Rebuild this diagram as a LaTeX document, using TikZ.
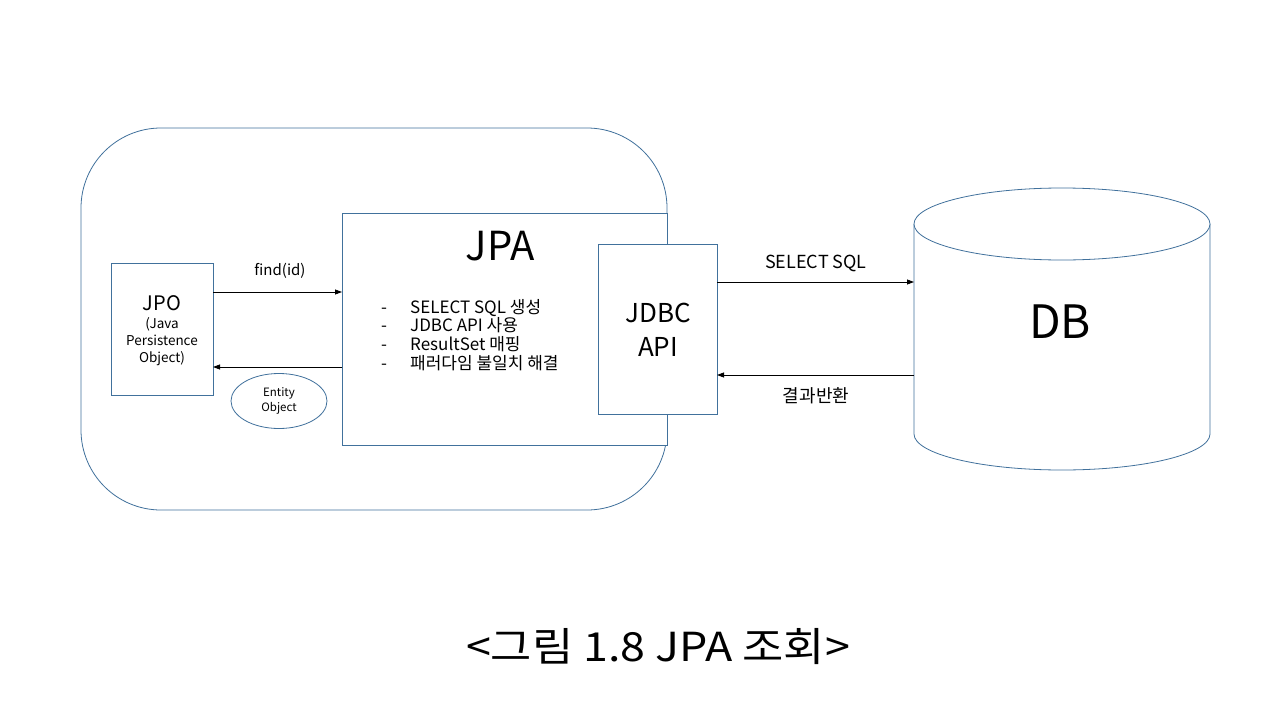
\documentclass[tikz,border=0pt]{standalone}
\usepackage{fontspec}
\usepackage{graphicx}
\setmainfont{Noto Sans CJK KR}
\usetikzlibrary{arrows.meta,shapes.geometric}
\definecolor{edge}{HTML}{41719C}
\tikzset{
  box/.style={draw=edge, line width=0.8pt, fill=white},
  flow/.style={draw=black, line width=0.8pt, -{Triangle[length=7pt,width=5pt]}},
  lbl/.style={font=\fontsize{15}{18}\selectfont, inner sep=0pt},
  biglbl/.style={font=\fontsize{18}{20}\selectfont, inner sep=0pt},
  dashitem/.style={inner sep=0pt, anchor=base, font=\fontsize{17}{18}\selectfont},
  item/.style={inner sep=0pt, anchor=base west, font=\fontsize{17}{18}\selectfont}
}
\begin{document}
\begin{tikzpicture}[x=1pt,y=-1pt]
\useasboundingbox (0,0) rectangle (1280,720);
% outer container
\draw[box, rounded corners=80pt] (81,128) rectangle (667,510);
% JPA box
\node[box, minimum width=325pt, minimum height=232pt, inner sep=0pt, anchor=north west] (jpa) at (342,213) {};
\node[inner sep=0pt, font=\fontsize{40}{44}\selectfont] (jpatitle) at (500,246) {JPA};
\node[dashitem] (d1) at (384,313) {-};
\node[dashitem] (d2) at (384,331.7) {-};
\node[dashitem] (d3) at (384,350.4) {-};
\node[dashitem] (d4) at (384,369.1) {-};
\node[item] (i1) at (410,313) {SELECT SQL 생성};
\node[item] (i2) at (410,331.7) {JDBC API 사용};
\node[item] (i3) at (410,350.4) {ResultSet 매핑};
\node[item] (i4) at (410,369.1) {패러다임 불일치 해결};
% JDBC API
\node[box, minimum width=119pt, minimum height=170pt, inner sep=0pt, anchor=north west] (jdbc) at (598,244) {};
\node[inner sep=0pt, align=center, font=\fontsize{26}{34}\selectfont] (jdbctext) at (658,330) {JDBC\\API};
% JPO
\node[box, minimum width=102pt, minimum height=132pt, inner sep=0pt, anchor=north west] (jpo) at (111,263) {};
\node[inner sep=0pt, font=\fontsize{20}{24}\selectfont] (jpotitle) at (162,303) {JPO};
\node[inner sep=0pt, align=center, font=\fontsize{13.5}{17}\selectfont] (jposub) at (162,342) {(Java\\Persistence\\Object)};
% Entity Object
\node[ellipse, draw=edge, line width=0.8pt, minimum width=96pt, minimum height=55pt, inner sep=0pt, align=center, font=\fontsize{11.5}{15}\selectfont] (entity) at (279,401) {Entity\\Object};
% arrows JPO <-> JPA
\coordinate (a1s) at (213,292);
\coordinate (a1e) at (342,292);
\draw[flow] (a1s) -- (a1e);
\node[lbl] (findid) at (280,271) {find(id)};
\coordinate (a2s) at (342,367);
\coordinate (a2e) at (213,367);
\draw[flow] (a2s) -- (a2e);
% DB cylinder
\draw[edge, line width=0.8pt, fill=white] (914,224) -- (914,434) arc[start angle=180, end angle=360, x radius=148pt, y radius=36pt] -- (1210,224);
\draw[edge, line width=0.8pt, fill=white] (1062,224) ellipse[x radius=148pt, y radius=36pt];
\node[inner sep=0pt, font=\fontsize{46}{50}\selectfont] (db) at (1060,322) {DB};
\coordinate (dbl) at (914,282);
\coordinate (dbr) at (914,375);
% arrows JDBC <-> DB
\coordinate (b1s) at (717,282);
\draw[flow] (b1s) -- (dbl);
\node[biglbl] (selsql) at (816,263) {SELECT SQL};
\coordinate (b2e) at (717,375);
\draw[flow] (dbr) -- (b2e);
\node[biglbl] (result) at (816,396) {결과반환};
% caption
\node[inner sep=0pt, font=\fontsize{40}{44}\selectfont] (caption) at (658,647) {\scalebox{1.12}[1]{<그림 1.8 JPA 조회>}};
\end{tikzpicture}
\end{document}
